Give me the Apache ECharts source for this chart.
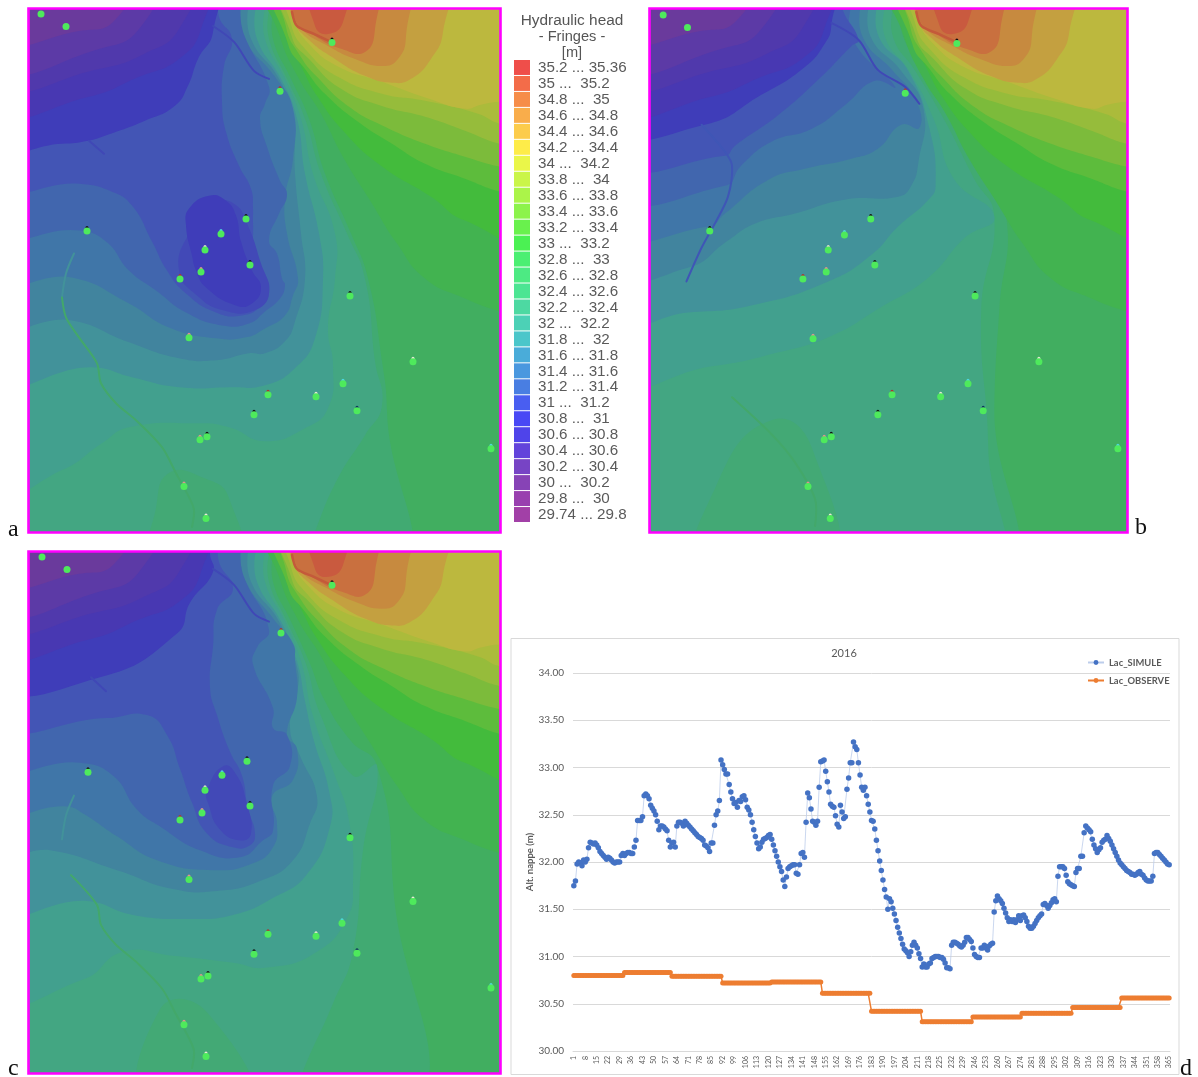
<!DOCTYPE html>
<html><head><meta charset="utf-8">
<style>html,body{margin:0;padding:0;background:#fff}#c{width:1198px;height:1077px}</style>
<script src="https://cdn.jsdelivr.net/npm/echarts@6/dist/echarts.min.js"></script>
</head><body><div id="c"></div>
<script>
// ---------- Chart d data ----------
const lacSimule = [
31.75,31.80,31.98,32.00,31.99,31.96,32.02,32.00,32.03,32.15,
32.21,32.20,32.19,32.20,32.18,32.15,32.11,32.09,32.07,32.05,
32.03,32.05,32.04,32.02,32.00,31.99,32.00,32.00,32.00,32.07,
32.09,32.07,32.09,32.10,32.10,32.09,32.09,32.16,32.23,32.44,
32.44,32.44,32.48,32.70,32.72,32.70,32.67,32.60,32.57,32.54,
32.50,32.43,32.34,32.38,32.38,32.37,32.35,32.33,32.23,32.16,
32.20,32.21,32.16,32.38,32.42,32.42,32.41,32.38,32.43,32.41,
32.39,32.37,32.35,32.33,32.31,32.29,32.27,32.26,32.25,32.23,
32.18,32.17,32.15,32.11,32.20,32.20,32.39,32.50,32.54,32.65,
33.08,33.03,32.98,32.93,32.93,32.82,32.74,32.67,32.62,32.63,
32.58,32.65,32.64,32.69,32.70,32.66,32.58,32.55,32.50,32.42,
32.34,32.27,32.20,32.14,32.16,32.21,32.24,32.25,32.26,32.28,
32.29,32.24,32.18,32.12,32.06,32.00,31.95,31.90,31.81,31.74,
31.84,31.93,31.95,31.96,31.97,31.97,31.88,31.87,31.97,32.09,
32.10,32.05,32.42,32.73,32.68,32.56,32.43,32.42,32.39,32.43,
32.79,33.06,33.07,33.08,32.96,32.85,32.74,32.61,32.59,32.58,
32.49,32.40,32.37,32.60,32.53,32.46,32.48,32.77,32.89,33.05,
33.05,33.27,33.22,33.19,33.05,32.92,32.79,32.76,32.79,32.70,
32.61,32.53,32.44,32.43,32.35,32.23,32.12,32.01,31.91,31.81,
31.71,31.63,31.50,31.61,31.58,31.51,31.45,31.38,31.31,31.25,
31.19,31.13,31.08,31.06,31.04,31.00,31.05,31.12,31.15,31.12,
31.09,31.03,30.98,30.89,30.92,30.89,30.89,30.92,30.93,30.98,
30.99,31.00,31.00,31.00,30.99,30.99,30.97,30.93,30.88,30.88,
30.87,31.12,31.15,31.15,31.14,31.13,31.11,31.10,31.12,31.15,
31.20,31.20,31.18,31.16,31.09,31.02,31.00,30.99,30.99,31.09,
31.09,31.12,31.09,31.07,31.11,31.13,31.14,31.47,31.59,31.64,
31.61,31.59,31.56,31.51,31.46,31.41,31.37,31.39,31.37,31.39,
31.36,31.39,31.43,31.38,31.43,31.44,31.41,31.37,31.32,31.30,
31.30,31.32,31.35,31.38,31.41,31.43,31.45,31.55,31.56,31.54,
31.51,31.54,31.57,31.60,31.61,31.58,31.85,31.95,31.95,31.95,
31.93,31.86,31.79,31.77,31.76,31.75,31.74,31.89,31.93,31.93,
32.06,32.06,32.31,32.38,32.36,32.34,32.32,32.24,32.18,32.14,
32.10,32.13,32.15,32.21,32.23,32.24,32.28,32.25,32.22,32.18,
32.14,32.10,32.06,32.02,31.99,31.97,31.95,31.93,31.91,31.90,
31.89,31.87,31.87,31.86,31.87,31.89,31.90,31.87,31.86,31.83,
31.81,31.80,31.80,31.80,31.85,32.09,32.10,32.10,32.08,32.06,
32.04,32.02,32.00,31.98,31.97];
const observedMonthly = [30.80,30.83,30.79,30.72,30.73,30.61,30.42,30.31,30.36,30.40,30.46,30.56];
const monthLengths = [31,29,31,30,31,30,31,31,30,31,30,30];
const lacObserve = observedMonthly.flatMap((v,i)=>Array(monthLengths[i]).fill(v));
const dayLabels = lacSimule.map((_,i)=>String(i+1));

// ---------- Legend data ----------
const fringeLabels = ["35.2 ... 35.36","35 ...  35.2","34.8 ...  35","34.6 ... 34.8","34.4 ... 34.6","34.2 ... 34.4","34 ...  34.2","33.8 ...  34","33.6 ... 33.8","33.4 ... 33.6","33.2 ... 33.4","33 ...  33.2","32.8 ...  33","32.6 ... 32.8","32.4 ... 32.6","32.2 ... 32.4","32 ...  32.2","31.8 ...  32","31.6 ... 31.8","31.4 ... 31.6","31.2 ... 31.4","31 ...  31.2","30.8 ...  31","30.6 ... 30.8","30.4 ... 30.6","30.2 ... 30.4","30 ...  30.2","29.8 ...  30","29.74 ... 29.8"];
const fringeSwatches = ["#ee3f3b","#f2603a","#f5833a","#f8a63c","#fcc83c","#feea3a","#e8f53a","#c6f43a","#a4f33a","#82f23c","#5cf03e","#3cf044","#3cee66","#3ee878","#3de38a","#3ed69a","#3dcdb0","#3cc1c6","#3ba5d6","#3b8fdc","#3a73e0","#3a50f0","#3a38f4","#4034e8","#5533d8","#6b34c0","#7d33b0","#9030a8","#9a30a0"];

// ---------- Map contours (map units), painted from the outside in ----------
const bgArea = [[-40,-40],[520,-40],[520,570],[-40,570]];
const highH1 = [[500,310],[471,303],[436,290],[396,270],[368,235],[340,190],[315,150],[292,105],[270,70],[250,25],[238,-30],[520,-30]];
const highH2 = [[500,226],[436,212],[402,188],[352,157],[315,123],[288,87],[272,57],[255,23],[247,-30],[520,-30]];
const highH3 = [[500,188],[471,183],[436,170],[396,155],[363,135],[329,113],[296,85],[276,60],[259,35],[250,-30],[520,-30]];
const highH4 = [[500,162],[471,158],[436,148],[396,135],[356,118],[320,98],[288,68],[270,45],[257,18],[254,-30],[520,-30]];
const highH5 = [[500,138],[471,135],[436,122],[396,108],[352,97],[312,80],[280,50],[263,28],[257,-30],[520,-30]];
const highH6 = [[500,118],[471,115],[449,105],[396,92],[353,85],[309,68],[278,42],[262,15],[259,-30],[520,-30]];
const highH7 = [[500,94],[471,93],[452,96],[436,100],[400,90],[350,72],[310,58],[280,35],[265,10],[261,-30],[520,-30]];
const highO1 = [[413,-30],[414,23],[402,50],[382,70],[363,74],[336,67],[306,50],[279,30],[264,10],[260,-30]];
const highO2 = [[374,-30],[377,27],[369,50],[353,57],[326,50],[299,37],[272,20],[262,3],[260,-30]];
const highO3 = [[344,-30],[346,20],[336,43],[313,40],[286,27],[266,10],[262,-30]];
const highO4 = [[316,-30],[314,13],[299,25],[286,17],[281,-30]];
const highLayers = [["h1",highH1],["h2",highH2],["h3",highH3],["h4",highH4],["h5",highH5],["h6",highH6],["h7",highH7],["o1",highO1],["o2",highO2],["o3",highO3],["o4",highO4]];

const purpleP1 = [[-30,-30],[175,-30],[172,20],[150,50],[110,68],[60,88],[-30,100]];
const purpleP2 = [[-30,-30],[160,-30],[150,20],[115,45],[70,60],[-30,75]];
const purpleP3 = [[-30,-30],[125,-30],[110,20],[70,40],[-30,60]];
const purpleP4 = [[-30,-30],[100,-30],[85,12],[50,22],[-30,32]];
const purpleLayers = [["p1",purpleP1],["p2",purpleP2],["p3",purpleP3],["p4",purpleP4]];

const mapAH = [[-30,-30],[236,-30],[244,30],[262,70],[280,110],[296,165],[322,225],[339,270],[353,353],[358,403],[358,570],[-30,570]];
const mapAG = [[-30,-30],[231,-30],[240,30],[258,70],[276,110],[292,165],[318,225],[336,270],[346,353],[353,397],[336,427],[309,470],[286,524],[270,570],[-30,570]];
const mapAS = [[120,570],[127,500],[140,465],[175,470],[200,490],[210,570]];
const mapAF = [[-30,-30],[226,-30],[236,30],[256,70],[272,110],[284,165],[306,225],[306,270],[299,320],[304,357],[299,400],[276,420],[236,433],[200,419],[167,415],[100,419],[73,435],[33,462],[-30,480]];
const mapAE = [[-30,-30],[216,-30],[228,30],[252,70],[268,110],[276,165],[290,225],[294,270],[286,330],[266,360],[236,377],[200,379],[150,379],[103,369],[63,359],[-30,365]];
const mapAD = [[-30,-30],[207,-30],[222,30],[250,70],[264,110],[266,165],[272,225],[276,270],[266,313],[256,333],[236,345],[220,345],[187,352],[150,350],[100,334],[43,312],[-30,310]];
const mapAC = [[-30,-30],[199,-30],[216,30],[246,68],[264,100],[264,150],[256,190],[258,225],[269,270],[264,287],[256,307],[236,320],[217,329],[187,330],[140,319],[100,295],[43,269],[-30,267]];
const mapAB = [[-30,-30],[195,-30],[216,28],[240,78],[236,95],[231,110],[238,138],[251,172],[258,186],[250,205],[240,232],[248,245],[253,270],[256,277],[251,290],[236,303],[220,315],[193,317],[157,304],[127,282],[100,262],[77,233],[50,222],[-30,219]];
const mapAA = [[-30,-30],[184,-30],[190,8],[203,30],[195,57],[193,93],[197,123],[210,157],[222,180],[224,200],[224,214],[226,245],[236,265],[240,285],[233,297],[213,307],[187,304],[157,285],[138,262],[123,233],[103,197],[83,183],[50,175],[-30,173]];
const mapARing = [[150,262],[168,287],[195,302],[225,302],[240,285],[232,255],[218,215],[205,195],[185,195],[160,225]];
const mapAWell = [[180,187],[160,200],[157,217],[163,247],[167,262],[177,279],[207,297],[223,295],[232,279],[223,262],[212,233],[207,207],[197,192]];
const mapADeep = [[-30,-30],[181,-30],[184,23],[169,50],[159,77],[146,97],[116,112],[76,127],[59,132],[33,135],[-30,135]];
const mapALayers = [["bg",bgArea],["H",mapAH],["G",mapAG],["S",mapAS],["F",mapAF],["E",mapAE],["D",mapAD],["C",mapAC],["B",mapAB],["A",mapAA],["R",mapARing],["W",mapAWell],["N",mapADeep]].concat(purpleLayers,highLayers);

const mapBH = [[-30,-30],[238,-30],[250,28],[272,62],[296,110],[330,170],[352,210],[345,300],[340,400],[340,570],[-30,570]];
const mapBG = [[-30,-30],[232,-30],[240,28],[262,62],[290,110],[320,170],[340,208],[327,303],[334,440],[331,570],[-30,570]];
const mapBS = [[51,570],[67,474],[120,412],[160,440],[176,570]];
const mapBF = [[-30,-30],[224,-30],[232,28],[256,62],[280,110],[300,170],[340,208],[311,229],[275,269],[226,300],[180,327],[127,344],[61,358],[-30,365]];
const mapBE = [[-30,-30],[214,-30],[226,28],[255,62],[276,120],[282,177],[275,191],[245,218],[219,246],[176,273],[100,297],[38,304],[-30,307]];
const mapBD = [[-30,-30],[206,-30],[218,28],[248,62],[270,100],[265,154],[258,177],[245,188],[192,191],[143,205],[104,215],[77,232],[38,259],[-30,261]];
const mapBC = [[-30,-30],[198,-30],[210,28],[240,62],[262,90],[266,119],[248,116],[225,140],[199,150],[153,160],[117,171],[74,205],[58,218],[-30,218]];
const mapBB = [[-30,-30],[190,-30],[200,30],[242,78],[222,72],[193,96],[160,120],[120,133],[90,157],[74,177],[-30,181]];
const mapBA = [[-30,-30],[184,-30],[190,0],[206,31],[199,37],[166,71],[127,106],[84,137],[74,147],[-30,149]];
const mapBDeep = [[-30,-30],[178,-30],[179,17],[173,34],[153,58],[110,86],[54,116],[-30,118]];
const mapBLayers = [["bg",bgArea],["H",mapBH],["G",mapBG],["S",mapBS],["F",mapBF],["E",mapBE],["D",mapBD],["C",mapBC],["B",mapBB],["A",mapBA],["N",mapBDeep]].concat(purpleLayers,highLayers);

const mapCH = [[-30,-30],[236,-30],[244,30],[262,70],[280,110],[296,150],[322,190],[348,215],[364,334],[368,570],[-30,570]];
const mapCG = [[-30,-30],[231,-30],[240,30],[258,70],[276,110],[292,165],[324,225],[348,215],[334,300],[324,402],[304,454],[271,530],[260,570],[-30,570]];
const mapCS = [[118,570],[131,460],[178,463],[224,570]];
const mapCF = [[-30,-30],[226,-30],[236,30],[256,70],[272,110],[284,165],[306,225],[320,270],[324,334],[318,368],[288,402],[238,418],[204,413],[144,406],[94,402],[54,430],[-30,443]];
const mapCE = [[-30,-30],[216,-30],[228,30],[252,70],[268,110],[276,150],[285,190],[300,240],[301,276],[278,324],[244,348],[204,365],[158,369],[104,365],[58,351],[-30,353]];
const mapCD = [[-30,-30],[207,-30],[222,30],[250,70],[268,116],[268,143],[261,177],[271,205],[288,246],[281,273],[264,310],[231,331],[188,341],[144,339],[88,320],[21,300],[-30,300]];
const mapCC = [[-30,-30],[199,-30],[216,28],[245,68],[264,92],[266,109],[268,146],[258,184],[268,198],[264,229],[243,246],[248,273],[244,297],[224,313],[184,320],[128,310],[88,286],[54,263],[38,256],[-30,255]];
const mapCB = [[-30,-30],[195,-30],[216,28],[240,78],[228,96],[224,113],[244,157],[244,177],[258,184],[261,215],[244,235],[244,280],[234,290],[211,307],[171,300],[131,276],[108,259],[84,225],[51,212],[-30,210]];
const mapCA = [[-30,-30],[184,-30],[190,10],[204,37],[188,58],[184,95],[181,136],[188,164],[201,201],[213,225],[219,259],[226,283],[221,295],[204,297],[178,283],[163,252],[151,218],[138,184],[118,164],[78,167],[-30,167]];
const mapCWell = [[178,240],[180,255],[190,278],[210,290],[222,283],[217,250],[208,225],[195,215]];
const mapCDeep = [[-30,-30],[181,-30],[181,2],[184,20],[161,51],[148,82],[71,126],[-30,130]];
const mapCLayers = [["bg",bgArea],["H",mapCH],["G",mapCG],["S",mapCS],["F",mapCF],["E",mapCE],["D",mapCD],["C",mapCC],["B",mapCB],["A",mapCA],["R",mapCWell],["N",mapCDeep]].concat(purpleLayers,highLayers);

// Thin channels on the maps
const crestLine = [[263,3],[268,17],[285,25],[302,33]];
const mapAChannels = [["dark",[[184,17],[205,33],[225,62],[240,70]]],["dark",[[60,132],[75,145]]],["teal",[[45,245],[37,265],[33,289]]],["river",[[33,289],[37,309],[50,329],[68,355],[72,375],[87,395],[107,412],[133,439],[147,465],[160,489],[165,502],[163,519]]],["crest",crestLine]];
const mapBChannels = [["dark",[[179,14],[206,31],[225,61],[252,78],[266,95]]],["dark2",[[51,116],[74,143],[81,157],[77,188],[64,215],[51,239],[36,273]]],["river",[[81,389],[120,426],[143,454],[163,491],[163,518]]],["crest",crestLine]];
const mapCChannels = [["dark",[[184,17],[205,33],[225,62],[240,70]]],["dark",[[62,126],[77,140]]],["teal",[[45,245],[37,265],[33,289]]],["river",[[42,325],[68,355],[72,375],[87,395],[107,412],[133,439],[147,465],[160,489],[165,502],[163,519]]],["crest",crestLine]];

// Observation wells
const wellsA = [[12,5],[37,17.5],[303,33.5],[251,82.5],[217,210.5],[58,222.5],[192,225.5],[176,241.5],[221,256.5],[172,263.5],[151,270.5],[321,287.5],[160,329.5],[384,353.5],[314,375.5],[239,386.5],[287,388.5],[225,406.5],[328,402.5],[178,428.5],[171,431.5],[155,478.5],[462,440.5],[177,510.5]];
const wellsB = [[13,6],[37,18.5],[303,34.5],[252,84.5],[218,210.5],[59,222.5],[192,226.5],[176,241.5],[222,256.5],[174,263.5],[151,270.5],[321,287.5],[161,330.5],[384,353.5],[314,375.5],[239,386.5],[287,388.5],[225,406.5],[329,402.5],[179,428.5],[172,431.5],[156,478.5],[462,440.5],[178,510.5]];
const wellsC = [[13,5],[38,17.5],[303,33.5],[252,81.5],[218,210.5],[59,221.5],[193,224.5],[176,239.5],[221,255.5],[173,262.5],[151,269.5],[321,287.5],[160,329.5],[384,351.5],[313,373.5],[239,384.5],[287,386.5],[225,404.5],[328,403.5],[179,426.5],[172,429.5],[155,475.5],[462,438.5],[177,507.5]];
const wellCaps = ["none","none","#111","#b03030","#111","#111","#4ed8e0","#e0e0d0","#111","#e09090","#b03030","#111","#e09090","#e8e8d8","#4ed8e0","#b03030","#e8e8d8","#111","#103060","#111","#e09090","#e09090","#4ed8e0","#e8e8d8"];

// ---------- Styles ----------
const layerColors = {bg:"#41ae60",H:"#41aa72",G:"#43a682",S:"#43a975",F:"#42a08e",E:"#42929a",D:"#41849e",C:"#4076a8",B:"#4166ae",A:"#4355b5",R:"#4249b7",W:"#3f3db9",N:"#3f3db9",
 p1:"#4838b2",p2:"#5039ac",p3:"#5c3aa6",p4:"#6a3a9c",
 h1:"#42b350",h2:"#43bb3c",h3:"#5dbc3c",h4:"#7cbb3b",h5:"#96bc3b",h6:"#abbb3b",h7:"#bcb83e",o1:"#c4a040",o2:"#c78a3f",o3:"#c9703f",o4:"#c95a3f"};
const channelStyles = {dark:{c:"#4048b6",w:2},dark2:{c:"#3f56b6",w:2},teal:{c:"#42929a",w:2},river:{c:"#43a86a",w:2},crest:{c:"#c45a3a",w:2.5}};
const frameMagenta = "#ff00ff";
const txt = "#595959", grey = "#d9d9d9", uiFont = "Lato";

const maps = [
 {grid:{left:29,top:9,width:471,height:523},layers:mapALayers,chans:mapAChannels,wells:wellsA},
 {grid:{left:650,top:9,width:477,height:523},layers:mapBLayers,chans:mapBChannels,wells:wellsB},
 {grid:{left:29,top:552,width:471,height:521},layers:mapCLayers,chans:mapCChannels,wells:wellsC}
];

const grids=[], xAxes=[], yAxes=[], series=[];
maps.forEach((m,i)=>{
  grids.push(m.grid);
  xAxes.push({gridIndex:i,type:"value",min:0,max:471,show:false});
  yAxes.push({gridIndex:i,type:"value",min:0,max:524,inverse:true,show:false});
  series.push({type:"custom",xAxisIndex:i,yAxisIndex:i,clip:true,silent:true,z:2,
    data:m.layers.map((l,k)=>[k,0]),
    renderItem:(p,api)=>{const l=m.layers[api.value(0)];
      return {type:"polygon",shape:{points:l[1].map(q=>api.coord(q)),smooth:0.5},style:{fill:layerColors[l[0]],stroke:null}};}
  });
  series.push({type:"custom",xAxisIndex:i,yAxisIndex:i,clip:true,silent:true,z:3,
    data:m.chans.map((l,k)=>[k,0]),
    renderItem:(p,api)=>{const l=m.chans[api.value(0)],s=channelStyles[l[0]];
      return {type:"polyline",shape:{points:l[1].map(q=>api.coord(q)),smooth:0.3},style:{fill:null,stroke:s.c,lineWidth:s.w,lineCap:"round"}};}
  });
  series.push({type:"scatter",xAxisIndex:i,yAxisIndex:i,z:4,silent:true,symbolSize:3,symbolOffset:[0,-3.5],
    data:m.wells.map((w,k)=>({value:w,itemStyle:{opacity:1,color:wellCaps[k]==="none"?"rgba(0,0,0,0)":wellCaps[k]}}))});
  series.push({type:"scatter",xAxisIndex:i,yAxisIndex:i,z:5,silent:true,symbolSize:7,
    itemStyle:{color:"#4eea5c",opacity:1},data:m.wells});
  series.push({type:"custom",xAxisIndex:i,yAxisIndex:i,clip:false,silent:true,z:6,data:[[0,0]],
    renderItem:(p,api)=>{const a=api.coord([0,0]),b=api.coord([471,524]);
      return {type:"rect",shape:{x:a[0]-0.5,y:a[1]-0.5,width:b[0]-a[0]+1,height:b[1]-a[1]+1},style:{fill:null,stroke:frameMagenta,lineWidth:2.6}};}
  });
});

// Chart d
grids.push({left:573,top:673,width:597,height:378});
xAxes.push({gridIndex:3,type:"category",data:dayLabels,boundaryGap:true,
  axisLine:{show:true,lineStyle:{color:grey}},axisTick:{show:false},
  axisLabel:{interval:6,rotate:90,fontSize:7,color:txt,fontFamily:uiFont,margin:5}});
yAxes.push({gridIndex:3,type:"value",min:30,max:34,interval:0.5,
  name:"Alt. nappe (m)",nameLocation:"middle",nameGap:37,nameTextStyle:{fontSize:9.5,color:txt,fontFamily:uiFont,fontWeight:"bold"},
  axisLine:{show:false},axisTick:{show:false},splitLine:{lineStyle:{color:grey,width:1}},
  axisLabel:{formatter:v=>v.toFixed(2),fontSize:10,color:txt,fontFamily:uiFont,margin:9}});
series.push({name:"Lac_SIMULE",type:"line",xAxisIndex:3,yAxisIndex:3,data:lacSimule,symbol:"circle",symbolSize:5.5,showAllSymbol:true,
  itemStyle:{color:"#4472c4"},lineStyle:{color:"#bccdeb",width:0.8},z:5,silent:true});
series.push({name:"Lac_OBSERVE",type:"line",xAxisIndex:3,yAxisIndex:3,data:lacObserve,symbol:"circle",symbolSize:5,showAllSymbol:true,
  itemStyle:{color:"#ed7d31"},lineStyle:{color:"#ed7d31",width:1.5},z:5,silent:true});

// Legend of the maps
grids.push({left:514,top:59.5,width:125,height:463});
xAxes.push({gridIndex:4,type:"value",min:0,max:1,show:false});
yAxes.push({gridIndex:4,type:"category",inverse:true,data:fringeLabels,show:false});
series.push({type:"custom",xAxisIndex:4,yAxisIndex:4,silent:true,z:3,clip:false,
  data:fringeLabels.map((l,i)=>[0,i]),
  renderItem:(p,api)=>{const i=api.value(1),c=api.coord([0,i]),h=api.size([0,1])[1];
    return {type:"group",children:[
      {type:"rect",shape:{x:c[0],y:c[1]-h/2+0.5,width:16,height:h-1},style:{fill:fringeSwatches[i],opacity:.92}},
      {type:"text",x:c[0]+24,y:c[1]+0.5,style:{text:fringeLabels[i],fill:"#5a5a5a",font:'15.2px "Liberation Sans"',textVerticalAlign:"middle",verticalAlign:"middle"}}
    ]};}
});

const option={
  animation:false,backgroundColor:"#fff",
  grid:grids,xAxis:xAxes,yAxis:yAxes,series:series,
  legend:{data:["Lac_SIMULE","Lac_OBSERVE"],orient:"vertical",left:1082,top:653,itemWidth:16,itemHeight:6,itemGap:9,
    textStyle:{fontSize:9.4,color:txt,fontFamily:uiFont,fontWeight:"bold"},selectedMode:false},
  title:[
    {text:"2016",left:839,top:643,textAlign:"center",textStyle:{fontSize:11,fontWeight:"normal",color:txt,fontFamily:uiFont}},
    {text:"Hydraulic head",left:567,top:8,textAlign:"center",textStyle:{fontSize:15.4,fontWeight:"normal",color:"#555",fontFamily:"Liberation Sans"}},
    {text:"- Fringes -",left:567,top:24,textAlign:"center",textStyle:{fontSize:14.6,fontWeight:"normal",color:"#555",fontFamily:"Liberation Sans"}},
    {text:"[m]",left:567,top:40,textAlign:"center",textStyle:{fontSize:14.6,fontWeight:"normal",color:"#555",fontFamily:"Liberation Sans"}},
    {text:"a",left:3,top:513,textStyle:{fontSize:24,fontWeight:"normal",color:"#111",fontFamily:"Liberation Serif"}},
    {text:"b",left:1130,top:511,textStyle:{fontSize:24,fontWeight:"normal",color:"#111",fontFamily:"Liberation Serif"}},
    {text:"c",left:3,top:1052,textStyle:{fontSize:24,fontWeight:"normal",color:"#111",fontFamily:"Liberation Serif"}},
    {text:"d",left:1175,top:1052,textStyle:{fontSize:24,fontWeight:"normal",color:"#111",fontFamily:"Liberation Serif"}}
  ],
  graphic:[{type:"rect",z:-1,silent:true,shape:{x:511,y:638.5,width:668,height:436},style:{fill:"#fff",stroke:grey,lineWidth:1}}]
};
const chart=echarts.init(document.getElementById("c"),null,{renderer:"canvas",width:1198,height:1077});
chart.setOption(option);
</script></body></html>
